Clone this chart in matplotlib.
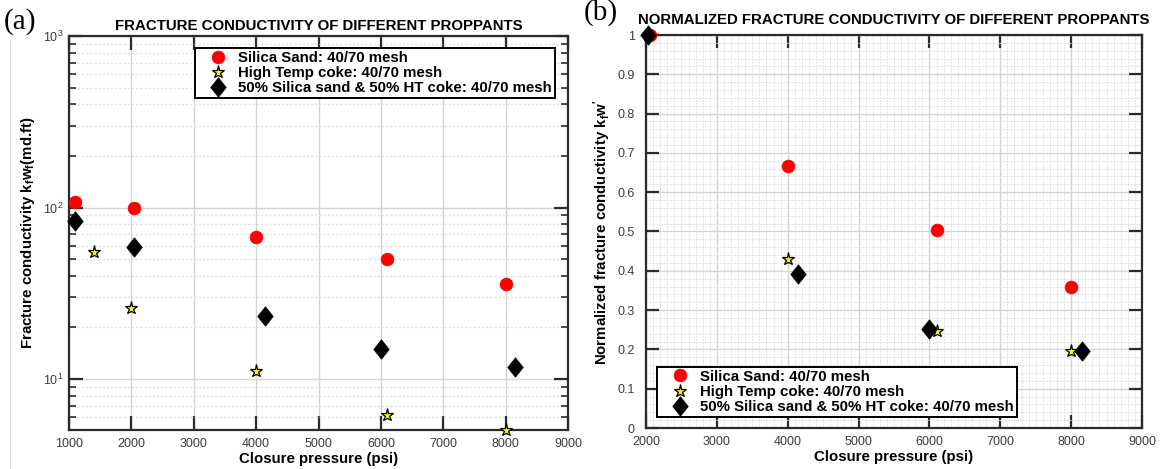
import math
import matplotlib
matplotlib.use("Agg")
import matplotlib.pyplot as plt
from matplotlib.ticker import MultipleLocator, FixedLocator, LogLocator, NullFormatter, FuncFormatter
from matplotlib.lines import Line2D
from matplotlib.path import Path

plt.rcParams['font.family'] = ['Liberation Sans', 'DejaVu Sans']

# ---- Panel (a): fracture conductivity (md.ft) vs closure pressure (psi)
silica_p = [1100, 2050, 4000, 6100, 8000]
silica_c = [108, 100, 67, 50, 36]
coke_p = [1400, 2000, 4000, 6100, 8000]
coke_c = [55, 26, 11.1, 6.2, 5.05]
mix_p = [1100, 2050, 4150, 6000, 8150]
mix_c = [83, 59, 23.2, 14.9, 11.7]

# ---- Panel (b): conductivity normalised by the 2000 psi value
silica_norm_p = [2050, 4000, 6100, 8000]
silica_norm = [1.0, 0.667, 0.503, 0.36]
coke_norm_p = [2030, 4000, 6100, 8000]
coke_norm = [1.0, 0.43, 0.247, 0.195]
mix_norm_p = [2030, 4150, 6000, 8150]
mix_norm = [1.0, 0.393, 0.252, 0.197]

labels = ["Silica Sand: 40/70 mesh",
          "High Temp coke: 40/70 mesh",
          "50% Silica sand & 50% HT coke: 40/70 mesh"]

W, H = 1162, 469
fig = plt.figure(figsize=(W / 100, H / 100), dpi=100)

def px_axes(x0, y0, x1, y1):
    return fig.add_axes([x0 / W, 1 - y1 / H, (x1 - x0) / W, (y1 - y0) / H])

AX1 = (69, 36, 568, 430)
AX2 = (646, 35, 1142, 428)
ax1 = px_axes(*AX1)
ax2 = px_axes(*AX2)

spine_col = "#2b2b2b"
tick_col = "#3c3c3c"
major_grid = "#d4d4d4"
minor_grid = "#e2e2e2"

LABEL_FS = 10.8

def style_axes(ax, ypad, ticklen):
    for s in ax.spines.values():
        s.set_color(spine_col)
        s.set_linewidth(1.6)
    ax.tick_params(which="major", direction="in", length=ticklen, width=1.6,
                   color=spine_col, top=True, right=True,
                   labelsize=9.0, labelcolor=tick_col)
    ax.tick_params(axis="x", which="major", pad=6)
    ax.tick_params(axis="y", which="major", pad=ypad)
    ax.tick_params(which="minor", direction="in", length=5, width=1.2,
                   color=spine_col, top=True, right=True)
    ax.set_axisbelow(True)

# slightly tall diamond marker
diamond_path = Path([(0, 1), (0.8, 0), (0, -1), (-0.8, 0), (0, 1)],
                    [Path.MOVETO, Path.LINETO, Path.LINETO, Path.LINETO, Path.CLOSEPOLY])

CIRCLE = dict(marker="o", ms=9.2, mfc="#ff0000", mec="#ff0000", mew=0.5)
STAR = dict(marker="*", ms=9.5, mfc="#f2f21a", mec="black", mew=0.9)
DIAMOND = dict(marker=diamond_path, ms=14, mfc="black", mec="black", mew=0.5)

def draw_series(ax, sets):
    (sp, sv), (cp, cv), (mp, mv) = sets
    ax.plot(sp, sv, ls="none", clip_on=False, zorder=5, **CIRCLE)
    ax.plot(cp, cv, ls="none", clip_on=False, zorder=6, **STAR)
    ax.plot(mp, mv, ls="none", clip_on=False, zorder=7, **DIAMOND)

def legend_handles():
    return [Line2D([], [], ls="none", **CIRCLE),
            Line2D([], [], ls="none", **STAR),
            Line2D([], [], ls="none", **DIAMOND)]

def add_legend(ax, loc, anchor):
    leg = ax.legend(legend_handles(), labels, loc=loc, bbox_to_anchor=anchor,
                    borderaxespad=0, frameon=True, fancybox=False,
                    prop={"weight": "bold", "size": 10.8},
                    handlelength=2.6, handletextpad=0.1, labelspacing=0.08,
                    borderpad=0.2)
    fr = leg.get_frame()
    fr.set_edgecolor("black")
    fr.set_linewidth(1.4)
    fr.set_facecolor("white")
    fr.set_alpha(1)
    leg.set_zorder(20)
    return leg

def frac_x(box, px):
    return (px - box[0]) / (box[2] - box[0])

def frac_y(box, py):
    return (box[3] - py) / (box[3] - box[1])

# ---------------- panel (a)
ax = ax1
style_axes(ax, ypad=4, ticklen=10)
ax.set_yscale("log")
ax.set_xlim(1000, 9000)
ax.set_ylim(5.05, 1000)
ax.xaxis.set_major_locator(MultipleLocator(1000))
ax.yaxis.set_major_locator(FixedLocator([10, 100, 1000]))
ax.yaxis.set_minor_locator(LogLocator(base=10, subs=range(2, 10)))
ax.yaxis.set_minor_formatter(NullFormatter())
ax.yaxis.set_major_formatter(FuncFormatter(
    lambda v, p: r"$\mathregular{10^{%d}}$" % round(math.log10(v))))
ax.grid(True, which="major", axis="both", color=major_grid, lw=1.0, ls="-")
ax.grid(True, which="minor", axis="y", color=minor_grid, lw=1.0, ls=(0, (1.5, 1.5)))
draw_series(ax, [(silica_p, silica_c), (coke_p, coke_c), (mix_p, mix_c)])
ax.set_xlabel("Closure pressure (psi)", fontsize=LABEL_FS, fontweight="bold", labelpad=1)
ax.set_ylabel(r"Fracture conductivity k$\mathregular{_f}$w$\mathregular{_f}$(md.ft)",
              fontsize=LABEL_FS, fontweight="bold")
ax.yaxis.set_label_coords(frac_x(AX1, 37), 0.5)
ax.set_title("FRACTURE CONDUCTIVITY OF DIFFERENT PROPPANTS",
             fontsize=10.8, fontweight="bold", pad=4)
add_legend(ax, "upper left", (frac_x(AX1, 195), frac_y(AX1, 48)))

# ---------------- panel (b)
ax = ax2
style_axes(ax, ypad=8, ticklen=9.5)
ax.set_xlim(2000, 9000)
ax.set_ylim(0, 1)
ax.xaxis.set_major_locator(MultipleLocator(1000))
ax.xaxis.set_minor_locator(MultipleLocator(100))
ax.yaxis.set_major_locator(MultipleLocator(0.1))
ax.yaxis.set_minor_locator(MultipleLocator(0.02))
ax.yaxis.set_major_formatter(FuncFormatter(
    lambda v, p: "0" if abs(v) < 1e-9 else ("1" if abs(v - 1) < 1e-9 else "%.1f" % v)))
ax.tick_params(which="minor", length=0)
ax.grid(True, which="major", axis="both", color=major_grid, lw=1.0, ls="-")
ax.grid(True, which="minor", axis="both", color=minor_grid, lw=0.7, ls=(0, (2, 1)))
draw_series(ax, [(silica_norm_p, silica_norm), (coke_norm_p, coke_norm), (mix_norm_p, mix_norm)])
ax.set_xlabel("Closure pressure (psi)", fontsize=LABEL_FS, fontweight="bold", labelpad=1)
ax.set_ylabel(r"Normalized fracture conductivity k$\mathregular{_f}$w$\mathregular{^{\prime}}$",
              fontsize=LABEL_FS, fontweight="bold")
ax.yaxis.set_label_coords(frac_x(AX2, 613), 0.5)
ax.set_title("NORMALIZED FRACTURE CONDUCTIVITY OF DIFFERENT PROPPANTS",
             fontsize=10.8, fontweight="bold", pad=8)
add_legend(ax, "lower left", (frac_x(AX2, 657), frac_y(AX2, 417)))

# panel letters
fig.text(4 / W, 1 - 8 / H, "(a)", family="Liberation Serif", fontsize=21, va="top", ha="left")
fig.text(584 / W, 1 + 1 / H, "(b)", family="Liberation Serif", fontsize=21, va="top", ha="left")

# thin frame edge along the left of the figure
fig.add_artist(Line2D([10 / W, 10 / W], [0, 1 - 40 / H], transform=fig.transFigure,
                      color="#dcdcdc", lw=0.8))

fig.savefig("out.png", dpi=100)
